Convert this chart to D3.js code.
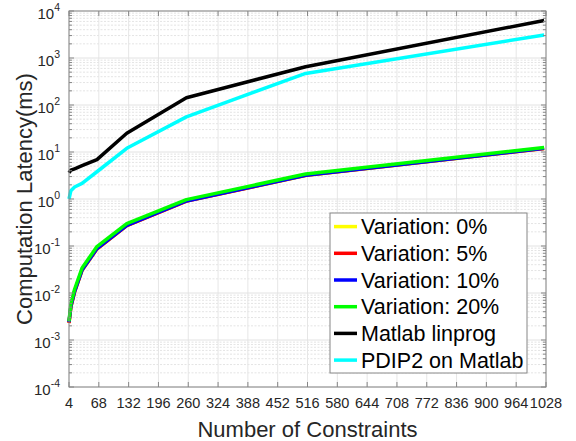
<!DOCTYPE html>
<html>
<head>
<meta charset="utf-8">
<script src="https://cdn.jsdelivr.net/npm/d3@7"></script>
<style>
body { margin:0; background:#fff; }
text { font-family: 'Liberation Sans', Arial, sans-serif; }
</style>
</head>
<body>
<div id="chart"></div>
<script>
var constraints = [4, 8, 16, 32, 64, 128, 256, 512, 1024]
var var0  = [0.0023, 0.0050, 0.0105, 0.030, 0.086, 0.27, 0.90, 3.15, 11.8]
var var5  = [0.0023, 0.0051, 0.0106, 0.031, 0.087, 0.27, 0.90, 3.18, 11.9]
var var10 = [0.0024, 0.0052, 0.0108, 0.031, 0.088, 0.275, 0.91, 3.2, 12.0]
var var20 = [0.0025, 0.0058, 0.0120, 0.034, 0.097, 0.30, 0.97, 3.4, 12.5]
var linprog = [3.6, 4.1, 4.4, 5.1, 6.9, 25, 143, 650, 6300]
var pdip2   = [1.0, 1.5, 1.8, 2.15, 3.8, 12, 56, 470, 3080]
var xTicks = [4, 68, 132, 196, 260, 324, 388, 452, 516, 580, 644, 708, 772, 836, 900, 964, 1028]
var yExps  = [-4, -3, -2, -1, 0, 1, 2, 3, 4]
var legendNames = ['Variation: 0%', 'Variation: 5%', 'Variation: 10%', 'Variation: 20%', 'Matlab linprog', 'PDIP2 on Matlab']

var series = [
	{name: legendNames[0], values: var0,    color: '#ffff00'},
	{name: legendNames[1], values: var5,    color: '#ff0000'},
	{name: legendNames[2], values: var10,   color: '#0000ff'},
	{name: legendNames[3], values: var20,   color: '#00ff00'},
	{name: legendNames[4], values: linprog, color: '#000000'},
	{name: legendNames[5], values: pdip2,   color: '#00ffff'}
]

var W = 576, H = 441
var pL = 69, pR = 546, pT = 11, pB = 387

var x = d3.scaleLinear().domain([4, 1028]).range([pL, pR])
var y = d3.scaleLog().domain([1e-4, 1e4]).range([pB, pT])

var svg = d3.select('#chart').append('svg')
            .attr('width', W)
            .attr('height', H)

// grid
var grid = svg.append('g').attr('class','grid')
var minor = []
yExps.slice(0,-1).forEach(e=>{
	for (var k=2; k<10; k++) minor.push(k*Math.pow(10,e))
})
grid.selectAll('line.minor').data(minor).enter().append('line')
	.attr('x1',pL).attr('x2',pR)
	.attr('y1',d=>y(d)).attr('y2',d=>y(d))
	.style('stroke','#e4e4e4').style('stroke-dasharray','2,1.5').style('stroke-width',1)
grid.selectAll('line.xg').data(xTicks).enter().append('line')
	.attr('x1',d=>x(d)).attr('x2',d=>x(d))
	.attr('y1',pT).attr('y2',pB)
	.style('stroke','#e6e6e6').style('stroke-width',1)
grid.selectAll('line.yg').data(yExps).enter().append('line')
	.attr('x1',pL).attr('x2',pR)
	.attr('y1',d=>y(Math.pow(10,d))).attr('y2',d=>y(Math.pow(10,d)))
	.style('stroke','#e2e2e2').style('stroke-width',1)

// lines
var line = d3.line().x((d,i)=>x(constraints[i])).y(d=>y(d))
svg.append('g').selectAll('path').data(series).enter().append('path')
	.attr('d',d=>line(d.values))
	.style('fill','none')
	.style('stroke',d=>d.color)
	.style('stroke-width',3.5)
	.style('stroke-linejoin','round')

// axes box and ticks
var ax = svg.append('g').attr('class','axes')
ax.append('rect').attr('x',pL).attr('y',pT)
	.attr('width',pR-pL).attr('height',pB-pT)
	.style('fill','none').style('stroke','#868686').style('stroke-width',1)
xTicks.forEach(t=>{
	ax.append('line').attr('x1',x(t)).attr('x2',x(t)).attr('y1',pB).attr('y2',pB-5)
	ax.append('line').attr('x1',x(t)).attr('x2',x(t)).attr('y1',pT).attr('y2',pT+5)
})
yExps.forEach(e=>{
	var v = y(Math.pow(10,e))
	ax.append('line').attr('x1',pL).attr('x2',pL+5).attr('y1',v).attr('y2',v)
	ax.append('line').attr('x1',pR).attr('x2',pR-5).attr('y1',v).attr('y2',v)
})
minor.forEach(m=>{
	ax.append('line').attr('x1',pL).attr('x2',pL+3).attr('y1',y(m)).attr('y2',y(m))
	ax.append('line').attr('x1',pR).attr('x2',pR-3).attr('y1',y(m)).attr('y2',y(m))
})
ax.selectAll('line').style('stroke','#868686').style('stroke-width',1)

// tick labels
svg.append('g').selectAll('text').data(xTicks).enter().append('text')
	.attr('x',d=>x(d)).attr('y',408)
	.attr('text-anchor','middle')
	.style('font-size','14.5px').style('fill','#262626')
	.text(d=>d)
var yl = svg.append('g').selectAll('text').data(yExps).enter().append('text')
	.attr('x',60).attr('y',d=>y(Math.pow(10,d))+8)
	.attr('text-anchor','end')
	.style('font-size','15px').style('fill','#262626')
yl.append('tspan').text('10')
yl.append('tspan').attr('dy',-8).style('font-size','10.5px').text(d=>d)

// axis titles
svg.append('text').attr('x',(pL+pR)/2).attr('y',437)
	.attr('text-anchor','middle').style('font-size','22px').style('fill','#262626')
	.text('Number of Constraints')
svg.append('text').attr('transform','translate(32,'+((pT+pB)/2)+') rotate(-90)')
	.attr('text-anchor','middle').style('font-size','22px').style('fill','#262626')
	.text('Computation Latency(ms)')

// legend
var lg = svg.append('g').attr('class','legend')
lg.append('rect').attr('x',330).attr('y',213).attr('width',197).attr('height',160)
	.style('fill','#fff').style('stroke','#868686').style('stroke-width',1)
series.forEach((s,i)=>{
	var ry = 226.6 + i*26.7
	lg.append('line').attr('x1',334).attr('x2',357).attr('y1',ry).attr('y2',ry)
		.style('stroke',s.color).style('stroke-width',3.5)
	lg.append('text').attr('x',361).attr('y',ry+7.5)
		.style('font-size','21.5px').style('fill','#000')
		.text(s.name)
})
</script>
</body>
</html>
